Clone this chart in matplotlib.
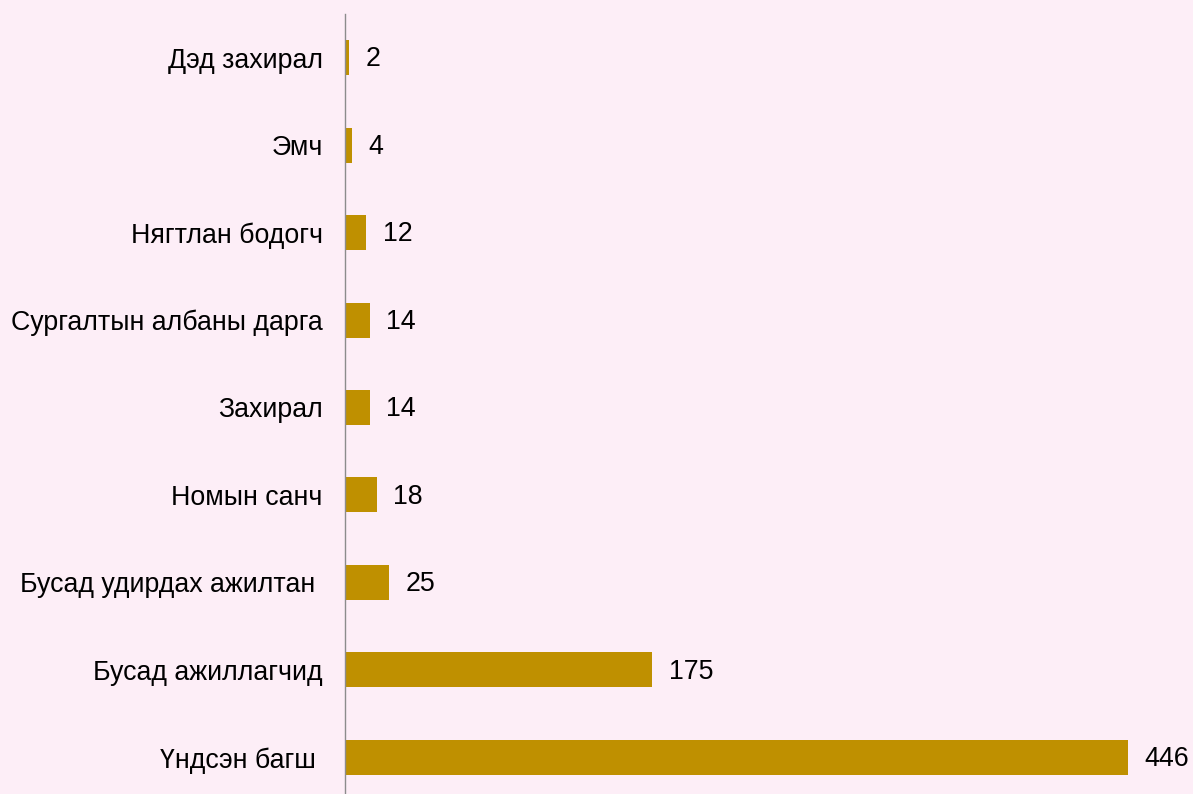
import matplotlib
matplotlib.use('Agg')
import matplotlib.pyplot as plt

plt.rcParams['font.family'] = ['Liberation Sans', 'DejaVu Sans']

categories = ['Дэд захирал', 'Эмч', 'Нягтлан бодогч', 'Сургалтын албаны дарга',
              'Захирал', 'Номын санч', 'Бусад удирдах ажилтан ', 'Бусад ажиллагчид',
              'Үндсэн багш ']
values = [2, 4, 12, 14, 14, 18, 25, 175, 446]

bg = '#FDEEF7'
fig = plt.figure(figsize=(11.93, 7.94), dpi=100, facecolor=bg)
ax = fig.add_axes([345 / 1193, 0, 1 - 345 / 1193, 1 - 14 / 794])
ax.set_facecolor(bg)

ypos = list(range(len(categories)))
ax.barh(ypos, values, height=0.4, color='#BF9000')
for y, v in zip(ypos, values):
    ax.text(v + 9.5, y + 0.02, str(v), va='center', ha='left', fontsize=19.3, color='black')

ax.set_yticks(ypos)
ax.set_yticklabels(categories, fontsize=19.3)
ax.tick_params(axis='y', length=0, pad=16)
ax.set_xticks([])
ax.set_xlim(0, (1193 - 345) / ((1128 - 345) / 446))
ax.set_ylim(8.42, -0.5)
for s in ['top', 'right', 'bottom']:
    ax.spines[s].set_visible(False)
ax.spines['left'].set_color('#8C8C8C')
ax.spines['left'].set_linewidth(1)

fig.savefig('out.png', dpi=100, facecolor=bg)
